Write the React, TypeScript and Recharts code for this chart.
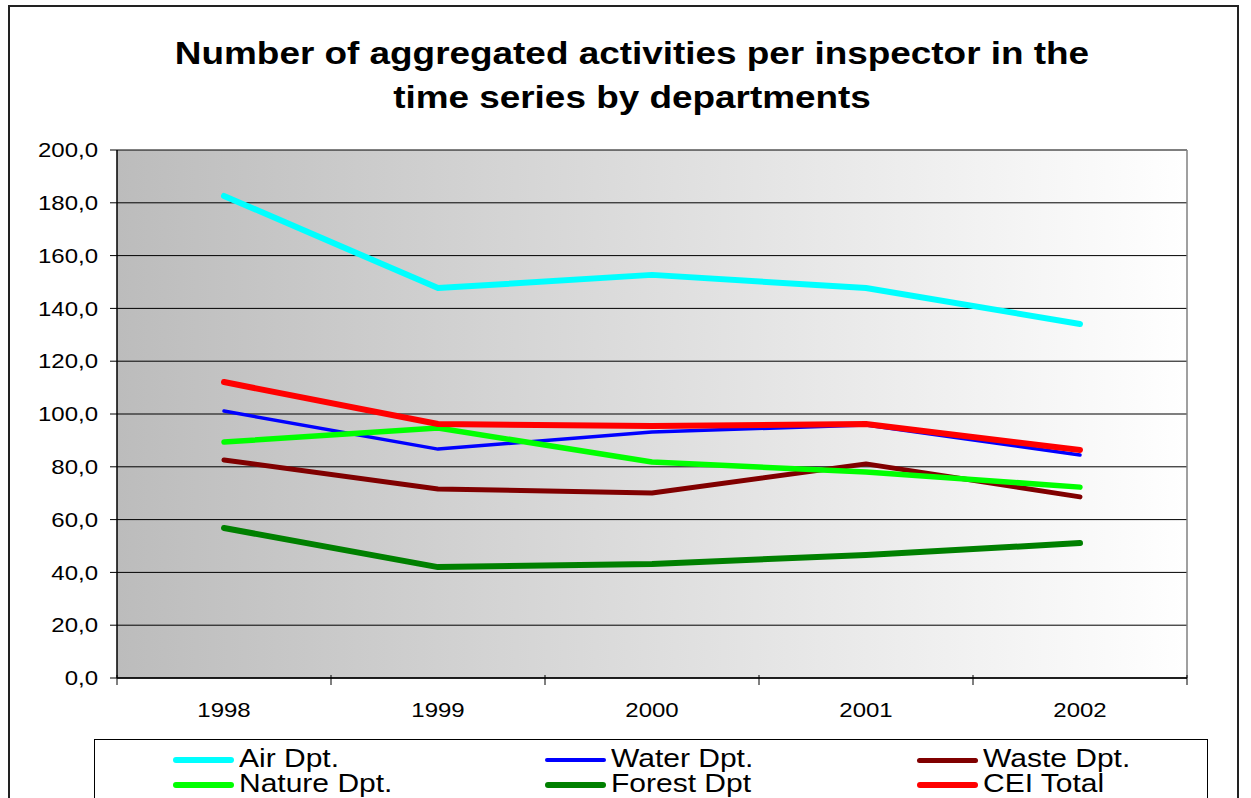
import { LineChart, Line, XAxis, YAxis, CartesianGrid } from 'recharts'

// values
const years = ['1998', '1999', '2000', '2001', '2002']
const airDpt = [182.6, 147.7, 152.7, 147.7, 134.1]
const waterDpt = [101.1, 86.7, 93.2, 95.8, 84.5]
const wasteDpt = [82.6, 71.6, 70.1, 81.1, 68.6]
const natureDpt = [89.4, 94.7, 81.8, 78.0, 72.3]
const forestDpt = [56.8, 42.0, 43.2, 46.6, 51.1]
const ceiTotal = [112.1, 96.2, 95.5, 96.2, 86.4]
const yTicks = [0, 20, 40, 60, 80, 100, 120, 140, 160, 180, 200]

const series = [
  { key: 'air', name: 'Air Dpt.', color: '#00ffff', width: 6, values: airDpt },
  { key: 'water', name: 'Water Dpt.', color: '#0000ff', width: 3.5, values: waterDpt },
  { key: 'waste', name: 'Waste Dpt.', color: '#800000', width: 5, values: wasteDpt },
  { key: 'nature', name: 'Nature Dpt.', color: '#00ff00', width: 5.5, values: natureDpt },
  { key: 'forest', name: 'Forest Dpt', color: '#008000', width: 6, values: forestDpt },
  { key: 'cei', name: 'CEI Total', color: '#ff0000', width: 6, values: ceiTotal },
]

const data = years.map((year, i) => {
  const row: Record<string, string | number> = { year }
  series.forEach(s => { row[s.key] = s.values[i] })
  return row
})

const font = '"Liberation Sans", Arial, sans-serif'
const W = 1251
const H = 798
const margin = { top: 150, right: 64, bottom: 80, left: 57 }
const yAxisW = 60
// half of one category slot, so the year sits in the middle of its slot
const half = (W - margin.left - margin.right - yAxisW) / years.length / 2
const stretch = 1.2 // the original text is drawn wide

function YearTick(props: any) {
  const { x, y, payload, index, visibleTicksCount } = props
  return (
    <g>
      <line x1={x - half} x2={x - half} y1={y - 3} y2={y + 7} stroke="#000" />
      {index === visibleTicksCount - 1 && (
        <line x1={x + half} x2={x + half} y1={y - 3} y2={y + 7} stroke="#000" />
      )}
      <text transform={`translate(${x},${y + 39}) scale(${stretch},1)`} textAnchor="middle" fontSize={20} fill="#000" fontFamily={font}>
        {payload.value}
      </text>
    </g>
  )
}

function ValueTick(props: any) {
  const { x, y, payload } = props
  return (
    <text transform={`translate(${x},${y}) scale(${stretch},1)`} dy="0.36em" textAnchor="end" fontSize={20} fill="#000" fontFamily={font}>
      {payload.value.toFixed(1).replace('.', ',')}
    </text>
  )
}

export default function App() {
  return (
    <div style={{ position: 'absolute', left: 0, top: 0, width: W, height: H, overflow: 'hidden', background: '#fff', fontFamily: font }}>
      <div style={{ position: 'absolute', left: 8, top: 5, width: 1227, height: 820, border: '2px solid #222' }} />
      <div style={{ position: 'absolute', left: 0, top: 32, width: 1264, textAlign: 'center', fontSize: 31, fontWeight: 'bold', lineHeight: '44px', color: '#000', transform: 'scaleX(1.19)', transformOrigin: '632px 0' }}>
        Number of aggregated activities per inspector in the<br />time series by departments
      </div>
      <div style={{ position: 'absolute', left: 0, top: 0 }}>
        <LineChart width={W} height={H} data={data} margin={margin}>
          <defs>
            <linearGradient id="plotBg" x1="0" y1="0" x2="1" y2="0">
              <stop offset="0%" stopColor="#bcbcbc" />
              <stop offset="100%" stopColor="#ffffff" />
            </linearGradient>
          </defs>
          <CartesianGrid vertical={false} stroke="#000" fill="url(#plotBg)" fillOpacity={1} />
          <CartesianGrid
            horizontal={false}
            stroke="#808080"
            strokeWidth={1.5}
            verticalCoordinatesGenerator={({ offset }: any) => [offset.left + offset.width]}
          />
          <XAxis
            dataKey="year"
            tickSize={0}
            tickMargin={0}
            height={40}
            padding={{ left: half, right: half }}
            axisLine={{ stroke: '#000', strokeWidth: 1.5 }}
            tick={<YearTick />}
            interval={0}
          />
          <YAxis
            domain={[0, 200]}
            ticks={yTicks}
            width={yAxisW}
            tickSize={7}
            tickMargin={12}
            interval={0}
            axisLine={{ stroke: '#000', strokeWidth: 1.5 }}
            tickLine={{ stroke: '#000' }}
            tick={<ValueTick />}
          />
          {series.map(s => (
            <Line
              key={s.key}
              dataKey={s.key}
              name={s.name}
              type="linear"
              stroke={s.color}
              strokeWidth={s.width}
              strokeLinecap="round"
              strokeLinejoin="round"
              dot={false}
              activeDot={false}
              isAnimationActive={false}
            />
          ))}
        </LineChart>
      </div>
      <div style={{ position: 'absolute', left: 94, top: 739, width: 1114, height: 80, border: '1px solid #000', boxSizing: 'border-box' }}>
        {series.map((s, i) => (
          <div
            key={s.key}
            style={{ position: 'absolute', left: 78 + (i % 3) * 372, top: 6 + Math.floor(i / 3) * 25, height: 25, display: 'flex', alignItems: 'center', color: '#000' }}
          >
            <span style={{ display: 'inline-block', width: 61, height: s.width, borderRadius: 3, background: s.color, marginRight: 5, marginTop: 3 }} />
            <span style={{ display: 'inline-block', fontSize: 25, lineHeight: '25px', transform: `scaleX(${stretch})`, transformOrigin: '0 0', whiteSpace: 'nowrap' }}>
              {s.name}
            </span>
          </div>
        ))}
      </div>
    </div>
  )
}
